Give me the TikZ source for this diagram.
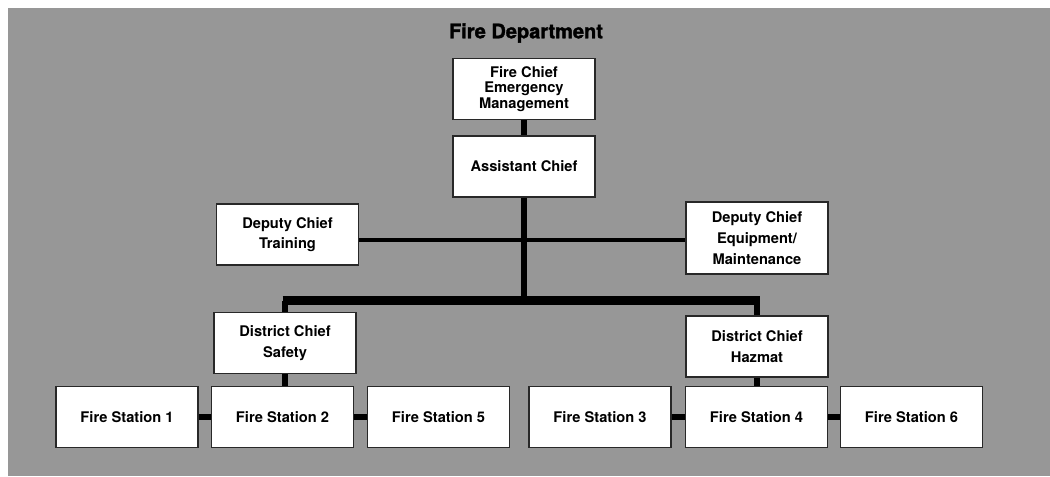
\documentclass[tikz,border=0pt]{standalone}
\usepackage{fontspec}
\setmainfont{TeX Gyre Heros}
\newfontfamily\titlefont{TeX Gyre Heros}[BoldFeatures={FakeBold=1.6}]
\usepackage{tikz}
\usetikzlibrary{positioning,calc}

\definecolor{bggray}{RGB}{151,151,151}
\definecolor{boxline}{RGB}{40,40,40}

\tikzset{
  orgbox/.style={draw=boxline, fill=white, line width=1.1pt, align=center,
    minimum width=106.5pt, minimum height=45.5pt, inner sep=1pt,
    font=\fontsize{11}{15.5}\selectfont\bfseries},
  link/.style={line width=3.8pt, black},
  buslink/.style={line width=7pt, black},
}

\begin{document}
\begin{tikzpicture}[x=0.75pt,y=0.75pt,yscale=-1,xscale=1]

\useasboundingbox (0,0) rectangle (1050,476);
% background
\fill [bggray] (8,8) rectangle (1050,476);

% Title
\node (title) at (526,33) [font=\titlefont\fontsize{15}{18}\selectfont\bfseries] {Fire Department};

% top of chart
\node [orgbox, font=\fontsize{11}{11.5}\selectfont\bfseries] (chief) at (524,89) {Fire Chief\\Emergency\\Management};
\node [orgbox] (assistant) at (524,166.5) {Assistant Chief};

% deputies
\node [orgbox] (training) at (287.5,234.5) {Deputy Chief\\Training};
\node [orgbox, minimum height=54pt] (equip) at (757,238) {Deputy Chief\\Equipment/\\Maintenance};

% district chiefs
\node [orgbox] (safety) at (285,343) {District Chief\\Safety};
\node [orgbox] (hazmat) at (757,346.5) {District Chief\\Hazmat};

% fire stations
\node [orgbox] (fs1) at (127,417) {Fire Station 1};
\node [orgbox] (fs2) at (282.5,417) {Fire Station 2};
\node [orgbox] (fs5) at (438.5,417) {Fire Station 5};
\node [orgbox] (fs3) at (600,417) {Fire Station 3};
\node [orgbox] (fs4) at (756.5,417) {Fire Station 4};
\node [orgbox] (fs6) at (911.5,417) {Fire Station 6};

% junctions
\coordinate (dj) at (524,240);
\coordinate (bus) at (524,300.5);

% Connectors
\draw [link] (chief) -- (assistant);
\draw [link] (assistant.south) -- (bus);
\draw [link, line width=3pt] (training.east |- dj) -- (equip.west |- dj);
\draw [buslink] ($(safety.north |- bus)+(-2.5,0)$) -- ($(hazmat.north |- bus)+(2.5,0)$);
\draw [link] (safety.north |- bus) -- (safety.north);
\draw [link] (hazmat.north |- bus) -- (hazmat.north);
\draw [link] (safety.south) -- (safety.south |- fs2.north);
\draw [link] (hazmat.south) -- (hazmat.south |- fs4.north);
\draw [link] (fs1) -- (fs2);
\draw [link] (fs2) -- (fs5);
\draw [link] (fs3) -- (fs4);
\draw [link] (fs4) -- (fs6);

\end{tikzpicture}
\end{document}
